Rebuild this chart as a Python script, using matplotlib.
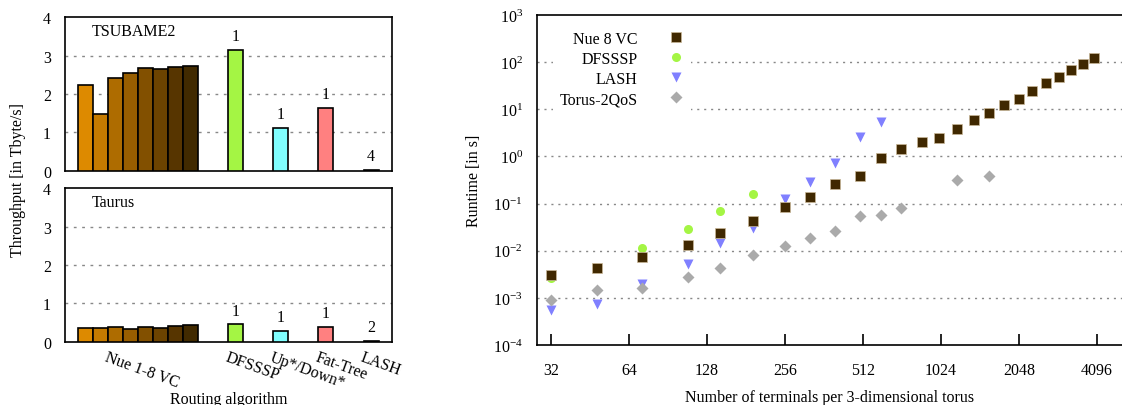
import numpy as np
import matplotlib
matplotlib.use("Agg")
from matplotlib import pyplot as plt
from matplotlib.ticker import LogLocator, LogFormatterSciNotation, NullLocator

plt.rcParams["font.family"] = ["Liberation Serif", "DejaVu Serif"]
plt.rcParams["mathtext.fontset"] = "custom"
plt.rcParams["mathtext.rm"] = "Liberation Serif"
plt.rcParams["mathtext.it"] = "Liberation Serif:italic"
plt.rcParams["font.size"] = 11.5

# =============================================================================
# data
# =============================================================================

# left: throughput per routing algorithm (Tbyte/s)
nue_vcs = ["1", "2", "3", "4", "5", "6", "7", "8"]
tsubame_nue = [2.24, 1.47, 2.43, 2.56, 2.68, 2.66, 2.71, 2.72]
taurus_nue = [0.365, 0.35, 0.39, 0.34, 0.38, 0.35, 0.42, 0.44]

other_algos = ["DFSSSP", "Up*/Down*", "Fat-Tree", "LASH"]
tsubame_other = [3.16, 1.12, 1.63, 0.03]
taurus_other = [0.45, 0.29, 0.38, 0.03]
tsubame_counts = ["1", "1", "1", "4"]
taurus_counts = ["1", "1", "1", "2"]

# right: runtime vs. number of terminals
terminals = [32, 48, 72, 108, 144, 192, 256, 320, 400, 500, 600, 720, 864,
             1008, 1176, 1372, 1568, 1792, 2048, 2304, 2592, 2916, 3240,
             3600, 4000]
rt_nue = [0.0031, 0.0042, 0.0072, 0.0132, 0.0237, 0.043, 0.083, 0.139,
          0.266, 0.385, 0.93, 1.46, 2.02, 2.5, 3.87, 5.9, 8.5, 12.4, 16.9,
          24.9, 35.5, 47.5, 68.0, 91.0, 120.0]
rt_dfsssp = [0.0027, 0.0042, 0.0114, 0.029, 0.070, 0.163]
rt_lash = [0.00054, 0.00075, 0.0020, 0.0051, 0.0146, 0.031, 0.124, 0.28,
           0.74, 2.6, 5.3]
terminals_torus = [32, 48, 72, 108, 144, 192, 256, 320, 400, 500, 600, 720,
                   1176, 1568]
rt_torus = [0.00091, 0.00148, 0.00163, 0.0028, 0.0042, 0.0081, 0.0124,
            0.0186, 0.0258, 0.055, 0.057, 0.080, 0.31, 0.385]

xticks_right = [32, 64, 128, 256, 512, 1024, 2048, 4096]

# =============================================================================
# plot
# =============================================================================

nue_colors = ["#dd8a00", "#c67b00", "#ae6c00", "#985e00",
              "#825000", "#6c4300", "#573500", "#412a00"]
other_colors = ["#a4f544", "#80ffff", "#ff8080", "#1a1a5e"]

fig = plt.figure(figsize=(11.22, 4.06), dpi=100)

ax_top = fig.add_axes([0.0579, 0.5771, 0.2915, 0.3778])
ax_bot = fig.add_axes([0.0579, 0.1559, 0.2915, 0.3778])
ax_r = fig.add_axes([0.4783, 0.1478, 0.5217, 0.8128])

nue_pos = np.arange(len(nue_vcs))
other_pos = np.array([10, 13, 16, 19])

for ax, nue_vals, oth_vals, counts, title in [
    (ax_top, tsubame_nue, tsubame_other, tsubame_counts, "TSUBAME2"),
    (ax_bot, taurus_nue, taurus_other, taurus_counts, "Taurus"),
]:
    ax.bar(nue_pos, nue_vals, width=1.0, color=nue_colors,
           edgecolor="black", linewidth=1.2, zorder=3)
    ax.bar(other_pos, oth_vals, width=1.0, color=other_colors,
           edgecolor="black", linewidth=1.2, zorder=3)
    for xp, v, c in zip(other_pos, oth_vals, counts):
        ax.annotate(c, (xp, v), xytext=(0, 10), textcoords="offset points",
                    ha="center", va="center", zorder=4)
    ax.set_xlim(-1.39, 20.4)
    ax.set_ylim(0, 4)
    ax.set_yticks([0, 1, 2, 3, 4])
    ax.tick_params(axis="y", length=0, pad=10)
    ax.tick_params(axis="x", length=0)
    for yg in [1, 2, 3]:
        ax.axhline(yg, color="#888888", lw=1.0, ls=(0, (2, 4)), zorder=1)
    ax.text(0.082, 0.91, title, transform=ax.transAxes, ha="left",
            va="center")
    for s in ax.spines.values():
        s.set_linewidth(1.2)

ax_top.set_xticks([])
ax_bot.set_xticks(np.concatenate([[1.48], other_pos - 0.5]))
ax_bot.set_xticklabels(["Nue 1-8 VC"] + other_algos, rotation=-20,
                       ha="left", va="top", rotation_mode="anchor")
ax_bot.tick_params(axis="x", pad=5)
ax_bot.set_xlabel("Routing algorithm", labelpad=0)
fig.text(0.016, 0.556, "Throughput [in Tbyte/s]", rotation=90,
         ha="center", va="center")

# right: runtime scatter
ax_r.set_xscale("log", base=2)
ax_r.set_yscale("log")
ax_r.plot(terminals, rt_nue, ls="none", marker="s", ms=6.5,
          color="#402800", mec="#c9b898", mew=0.5, label="Nue 8 VC", zorder=5)
ax_r.plot(terminals[:len(rt_dfsssp)], rt_dfsssp, ls="none", marker="o",
          ms=6.5, color="#a4f544", mec="none", label="DFSSSP", zorder=4)
ax_r.plot(terminals[:len(rt_lash)], rt_lash, ls="none", marker="v",
          ms=7.5, color="#8080ff", mec="none", label="LASH", zorder=4)
ax_r.plot(terminals_torus, rt_torus, ls="none", marker="D", ms=6,
          color="#aaaaaa", mec="none", label="Torus-2QoS", zorder=4)

ax_r.set_xlim(2 ** 4.817, 2 ** 12.32)
ax_r.set_ylim(1e-4, 1e3)
ax_r.set_xticks(xticks_right)
ax_r.set_xticklabels([str(v) for v in xticks_right])
ax_r.xaxis.set_minor_locator(NullLocator())
ax_r.yaxis.set_major_locator(LogLocator(base=10, numticks=20))
ax_r.yaxis.set_major_formatter(LogFormatterSciNotation())
ax_r.yaxis.set_minor_locator(NullLocator())
ax_r.tick_params(axis="x", direction="in", length=8, width=1.2, pad=12)
ax_r.tick_params(axis="y", length=0, pad=10)
for yg in [1e-3, 1e-2, 1e-1, 1e0, 1e1, 1e2]:
    ax_r.axhline(yg, color="#888888", lw=1.0, ls=(0, (1.5, 3.5)), zorder=1)
for s in ax_r.spines.values():
    s.set_linewidth(1.2)
ax_r.spines["right"].set_visible(False)
ax_r.set_xlabel("Number of terminals per 3-dimensional torus", labelpad=8)
ax_r.set_ylabel("Runtime [in s]", labelpad=8)

leg = ax_r.legend(loc="upper left", bbox_to_anchor=(0.015, 0.995),
                  markerfirst=False, frameon=True, fancybox=False,
                  edgecolor="none", framealpha=1.0, handletextpad=1.9,
                  labelspacing=0.25, borderpad=0.4, handlelength=1.0)
leg.set_zorder(6)

plt.savefig("out.png", dpi=100)
